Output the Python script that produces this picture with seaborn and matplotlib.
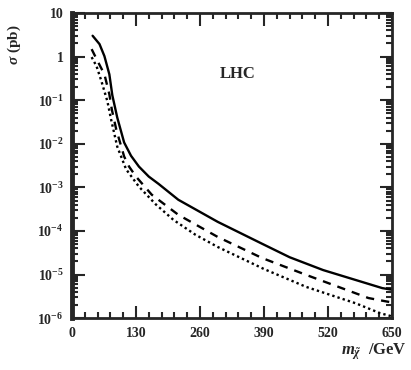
import numpy as np
import pandas as pd
import matplotlib
matplotlib.use("Agg")
import matplotlib.pyplot as plt
import seaborn as sns
from matplotlib.ticker import FixedLocator, MultipleLocator, LogLocator, NullFormatter

# ------------------------------
# data (m in GeV, sigma in pb)
# ------------------------------
m_solid = [42, 56, 66, 76, 82, 92, 106, 120, 136, 156, 176, 216, 296, 386, 442, 510, 630, 650]
sig_solid = [3.0, 1.93, 1.02, 0.39, 0.13, 0.040, 0.0107, 5.3e-3, 3.0e-3, 1.77e-3, 1.2e-3,
             5.2e-4, 1.62e-4, 5.1e-5, 2.5e-5, 1.27e-5, 4.9e-6, 4.5e-6]

m_dash = [40, 52, 66, 76, 81, 90, 106, 116, 130, 162, 216, 296, 386, 476, 602, 636, 650]
sig_dash = [1.48, 0.79, 0.39, 0.136, 0.061, 0.0213, 5.1e-3, 3.0e-3, 1.77e-3, 6.8e-4, 2.35e-4,
            7.3e-5, 2.4e-5, 9.8e-6, 2.9e-6, 2.45e-6, 2.3e-6]

m_dot = [40, 50, 60, 72, 80, 92, 110, 136, 170, 206, 250, 296, 390, 476, 576, 626, 650]
sig_dot = [0.97, 0.60, 0.27, 0.094, 0.034, 8.6e-3, 2.6e-3, 1.04e-3, 4.1e-4, 1.8e-4, 8.3e-5,
           4.3e-5, 1.34e-5, 5.2e-6, 2.2e-6, 1.3e-6, 1.1e-6]

x_ticks = [0, 130, 260, 390, 520, 650]
y_ticks = [1e-6, 1e-5, 1e-4, 1e-3, 1e-2, 1e-1, 1, 10]
y_ticklabels = ["$10^{-6}$", "$10^{-5}$", "$10^{-4}$", "$10^{-3}$",
                "$10^{-2}$", "$10^{-1}$", "1", "10"]

# ------------------------------
# plot
# ------------------------------
sns.set_style("ticks")
plt.rcParams["font.family"] = ["Liberation Serif", "DejaVu Serif"]
plt.rcParams["mathtext.fontset"] = "custom"
plt.rcParams["mathtext.rm"] = "Liberation Serif:bold"
plt.rcParams["mathtext.it"] = "Liberation Serif:italic:bold"
plt.rcParams["font.weight"] = "bold"

fig = plt.figure(figsize=(4.11, 3.70), dpi=100)
ax = fig.add_axes([0.175, 0.14, 0.779, 0.825])

sns.lineplot(x=m_solid, y=sig_solid, ax=ax, color="black", lw=1.7)
sns.lineplot(x=m_dash, y=sig_dash, ax=ax, color="black", lw=1.7)
ax.lines[-1].set_linestyle((0, (3.5, 3)))
sns.lineplot(x=m_dot, y=sig_dot, ax=ax, color="black", lw=1.7)
ax.lines[-1].set_linestyle((0, (1, 1.3)))

ax.set_yscale("log")
ax.set_xlim(0, 650)
ax.set_ylim(1e-6, 10)

ax.xaxis.set_major_locator(FixedLocator(x_ticks))
ax.xaxis.set_minor_locator(MultipleLocator(26))
ax.set_xticklabels([str(v) for v in x_ticks])
ax.yaxis.set_major_locator(FixedLocator(y_ticks))
ax.set_yticklabels(y_ticklabels)
ax.yaxis.set_minor_locator(LogLocator(base=10, subs=np.arange(2, 10), numticks=20))
ax.yaxis.set_minor_formatter(NullFormatter())

ax.tick_params(which="both", direction="in", top=True, right=True, width=1.5,
               labelsize=10, pad=6)
ax.tick_params(which="major", length=9)
ax.tick_params(which="minor", length=4)
for lab in ax.get_xticklabels() + ax.get_yticklabels():
    lab.set_fontweight("bold")

for side in ["top", "right", "bottom"]:
    ax.spines[side].set_linewidth(2)
ax.spines["left"].set_linewidth(3.5)

ax.set_xlabel("")
ax.set_ylabel("")
fig.text(0.035, 0.88, r"$\sigma$ (pb)", rotation=90, ha="center", va="center",
         fontsize=11, fontweight="bold")
fig.text(0.99, 0.05, r"$m_{\tilde{\chi}}$  /GeV", ha="right", va="center",
         fontsize=12)
ax.text(336, 0.4, "LHC", fontsize=12, ha="center", va="center")

fig.savefig("out.png", dpi=100)
